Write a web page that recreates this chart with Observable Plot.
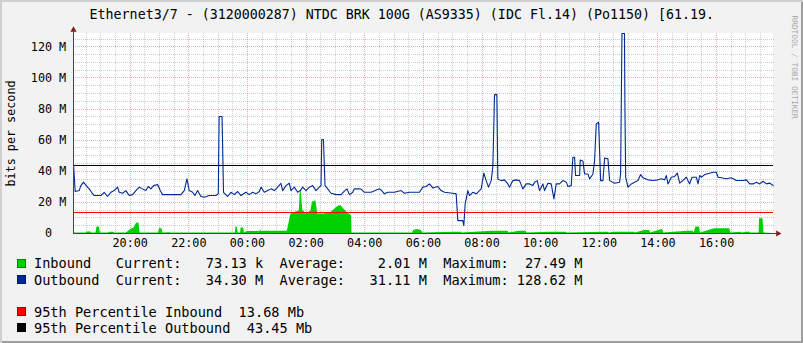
<!DOCTYPE html>
<html><head><meta charset="utf-8">
<script src="https://cdn.jsdelivr.net/npm/d3@7"></script>
<script src="https://cdn.jsdelivr.net/npm/@observablehq/plot@0.6"></script>
<style>
html,body{margin:0;padding:0;background:#fff;}
#chart{position:relative;width:803px;height:343px;background:#F2F2F2;box-shadow:inset 2px 2px 0 #CFCFCF, inset -2px -2px 0 #9E9E9E;overflow:hidden;font-family:"DejaVu Sans Mono",monospace;}
#chart svg{position:absolute;left:0;top:0;}
.row{position:absolute;left:17px;height:16px;line-height:16px;font-size:13.6px;white-space:pre;color:#000;}
.box{position:absolute;left:0;top:3.5px;width:9px;height:9px;box-sizing:border-box;border:1px solid rgba(0,0,0,.35);}
.txt{position:absolute;left:17px;top:0;}
</style></head><body><div id="chart"></div>
<script>
// ---- data (minutes after 18:00 of the first day, values in Mbit/s) ----
const titleText = "Ethernet3/7 - (3120000287) NTDC BRK 100G (AS9335) (IDC Fl.14) (Po1150) [61.19.";
const yLabel = "bits per second";
const watermark = "RRDTOOL / TOBI OETIKER";
const xTickLabels = ["20:00","22:00","00:00","02:00","04:00","06:00","08:00","10:00","12:00","14:00","16:00"];
const yTickValues = [0,20,40,60,80,100,120];
const yTickLabels = ["0\u00a0\u00a0","20 M","40 M","60 M","80 M","100 M","120 M"];

const outMinutes = [4,7.5,15.6,19.1,24.5,27.2,32.7,36.1,40.9,46.4,60,66.8,73.7,80.5,87.3,94.1,97.6,104.4,111.2,118,124.9,131.7,138.5,145.3,152.2,157,162.4,167.9,176.1,181.5,186.3,203.4,223.8,230.7,236.1,240.9,247.7,252.5,258,264.8,271.6,281.9,288.7,295.5,300.3,302,308,311,319.4,326.2,333.1,339.9,346.7,356.9,363.8,370.6,377.4,384.3,387.7,394.5,401.3,408.1,415,421.8,428.6,432,438.9,445.7,449.1,455.9,462.8,468.2,473,479.8,486.6,493.5,500.3,507.1,510.5,512,515.5,518.7,524.2,531,541.2,551.5,558.3,563.8,568.6,575.4,578.8,585.6,592.5,599.3,613,630,633.5,640.3,647.1,660.8,674.4,681.2,691.5,712,718.8,725.6,732.5,739.3,749.5,756.3,763.2,780.2,787.1,790.5,800.7,802.8,805.5,811,814.4,821.2,828,834.9,838.3,843.7,848.5,853.3,858.8,862.2,865.6,870.4,872.4,879.2,886,892.9,896.3,903.1,910,916.8,923.6,930.4,937.3,944.1,947.5,953,957.7,964.6,968,974.8,981.6,987.1,991.9,998.7,1005.5,1012.4,1015.8,1022.6,1026,1029.4,1031.5,1039.7,1041,1046.5,1049.9,1056.7,1060.2,1067,1070.4,1073.8,1078.6,1082.7,1087.5,1090.9,1097.7,1101.1,1111.4,1121.6,1123.6,1126.4,1131.5,1132.5,1134,1138.6,1145.5,1152.3,1159.1,1164.6,1169.4,1179.6,1189.8,1200.1,1206.9,1213.7,1217.2,1220.6,1227.4,1234.2,1239.7,1244.5,1251.3,1258.1,1264.9,1269.7,1278.6,1282,1285.4,1288.8,1295.7,1305.9,1312.7,1319.6,1323,1329.8,1340,1350.3,1360.5,1374.2,1381,1387.8,1394.7,1401.5,1408.3,1415.1,1422,1428.8,1436];
const outValues = [44.8,27.0,27.6,30.8,33.0,31.9,29.8,28.7,26.5,24.4,24.4,26.5,23.8,26.5,27.6,29.8,26.5,25.9,27.6,24.4,25.0,27.6,29.8,28.7,27.6,30.2,28.7,30.8,31.5,27.6,25.0,25.0,25.0,27.6,35.1,27.6,26.5,24.4,27.6,23.8,23.3,24.4,24.4,24.4,25.5,75.2,75.2,26.5,23.8,26.5,25.0,27.0,24.4,26.5,25.0,26.5,25.5,27.0,29.8,26.5,27.6,28.7,27.6,29.8,32.3,27.6,30.8,32.3,27.6,29.8,26.5,27.6,29.8,27.6,29.8,30.8,27.6,29.8,30.8,60.4,60.4,30.8,28.7,25.9,25.0,25.0,27.2,28.7,25.0,26.5,28.7,28.7,28.6,26.5,26.5,28.7,28.0,25.5,26.5,26.5,27.6,25.9,26.5,26.5,29.8,30.2,31.9,29.3,30.2,27.6,26.5,25.9,25.5,8.3,8.3,5.1,19.0,27.6,24.4,26.5,25.5,27.6,28.7,38.8,34.0,29.8,34.0,43.2,89.3,89.3,35.1,34.0,34.5,31.9,29.8,34.0,34.5,34.0,28.7,31.9,31.9,30.8,33.0,34.0,27.6,31.9,27.6,32.3,31.9,22.3,31.9,31.9,34.0,33.0,30.2,30.8,49.0,49.0,37.3,37.3,47.3,46.5,38.3,38.3,35.1,38.3,46.9,70.5,71.5,34.0,34.0,48.6,48.0,34.0,32.3,33.0,38.3,128.6,128.6,79.0,36.2,29.8,31.9,33.0,34.1,37.9,35.8,34.5,34.1,34.5,35.2,34.5,37.3,31.9,36.2,36.7,38.8,32.4,34.1,36.2,31.9,36.2,36.2,31.9,37.3,36.2,37.9,38.8,39.4,39.4,36.2,35.8,35.2,35.8,34.1,34.1,34.5,31.9,31.9,33.0,31.9,33.6,31.9,32.4,30.9];

const inMinutes = [4,30,33,39,41,50,52,57,59,75,80,85,88,112,115,121,128,133,138,140,178,180,185,187,200,205,335,336.5,339,341,346,347,352,354,360,385,387,389,395,440,442,449,456,466,468,470,473,480,490,493,500,504,517,531,538,545,551,558,568,573,574,698,700,708,716,719,787,797,799,862,893,895,917,930,932,978,1012,1014,1091,1098,1100,1111,1152,1154,1173,1183,1185,1207,1210,1212,1261,1272,1274,1278,1285,1287,1316,1347,1349,1370,1372,1387,1389,1407,1408,1415,1417,1436];
const inValues = [0.3,0.3,0.9,0.9,0.3,0.3,4.1,4.1,0.3,0.3,0.8,0.8,0.3,0.3,0.9,2.5,3.5,6.6,6.8,0.3,0.3,3.0,3.0,0.3,0.5,0.3,0.3,4.1,4.1,0.3,0.3,3.5,3.5,0.3,1.3,1.3,2.3,1.3,1.5,1.5,1.9,12.6,13.5,14.5,26,27.5,15,12.6,14.5,20.1,21,12.6,12.6,13.5,15.5,17.4,18,15.5,12.6,11.6,0.3,0.3,1.9,2.6,1.9,0.3,0.8,0.8,0.3,1.5,1.5,0.3,1.5,1.5,0.3,0.8,0.8,0.3,0.8,0.8,0.3,0.8,0.8,0.3,1.9,1.9,0.3,2.4,2.4,0.3,1.5,1.5,0.3,4.1,4.1,0.3,3.0,3.0,0.3,0.8,0.3,1.0,0.3,0.3,9.5,9.5,0.3,0.07];

const pctInbound = 13.68;
const pctOutbound = 43.45;

const legendNames = ["Inbound","Outbound"];
const legendColors = ["#00CF00","#002A97"];
const legendCurrent = ["73.13 k","34.30 M"];
const legendAverage = ["2.01 M","31.11 M"];
const legendMaximum = ["27.49 M","128.62 M"];
const pctLabels = ["95th Percentile Inbound  13.68 Mb","95th Percentile Outbound  43.45 Mb"];
const pctColors = ["#FF0000","#000000"];

// ---- build ----
const X0 = 4, X1 = 1436.5, YMAX = 128.6;
const toMin = s => { const [h,m] = s.split(":").map(Number); return ((h - 18 + 24) % 24) * 60 + m; };
const xTicks = xTickLabels.map(toMin);
const xLab = new Map(xTicks.map((t,i) => [t, xTickLabels[i]]));
const yLab = new Map(yTickValues.map((v,i) => [v, yTickLabels[i]]));
const outData = outMinutes.map((t,i) => ({t, v: outValues[i]}));
const inData = inMinutes.map((t,i) => ({t, v: inValues[i]}));
const minorX = d3.range(30, 1436, 30).filter(d => d % 120 !== 0);
const majorX = xTicks;
const minorY = d3.range(5, 128, 5).filter(d => d % 20 !== 0);
const majorY = yTickValues.filter(d => d > 0);
const crisp = {shapeRendering: "crispEdges"};

const chart = Plot.plot({
  width: 803, height: 250,
  marginLeft: 73, marginRight: 30, marginTop: 33, marginBottom: 17,
  style: {background: "transparent", fontFamily: '"DejaVu Sans Mono", monospace', fontSize: "11.75px", color: "#000", overflow: "visible"},
  x: {domain: [X0, X1], ticks: xTicks, tickFormat: d => xLab.get(d), tickSize: 0, tickPadding: 5, label: null},
  y: {domain: [0, YMAX], ticks: yTickValues, tickFormat: d => yLab.get(d), tickSize: 0, tickPadding: 7.3, label: null},
  marks: [
    Plot.rect([0], {x1: X0, x2: X1, y1: 0, y2: YMAX, fill: "white"}),
    Plot.ruleX(minorX, {y1: -0.5, y2: YMAX + 0.8, stroke: "#8F8F8F", strokeOpacity: 0.45, strokeDasharray: "1,1", ...crisp}),
    Plot.ruleY(minorY, {x1: X0, x2: X1 + 5, stroke: "#8F8F8F", strokeOpacity: 0.45, strokeDasharray: "1,1", ...crisp}),
    Plot.ruleX(majorX, {y1: -0.5, y2: YMAX + 0.8, stroke: "#DE4F4F", strokeOpacity: 0.45, strokeDasharray: "1,1", ...crisp}),
    Plot.ruleY(majorY, {x1: X0, x2: X1 + 5, stroke: "#DE4F4F", strokeOpacity: 0.45, strokeDasharray: "1,1", ...crisp}),
    Plot.areaY(inData, {x: "t", y: "v", fill: "#00CF00", curve: "linear"}),
    Plot.lineY(outData, {x: "t", y: "v", stroke: "#002A97", strokeWidth: 1.1, curve: "linear"}),
    Plot.ruleY([pctInbound], {x1: X0, x2: X1, stroke: "#FF0000", strokeWidth: 1, ...crisp}),
    Plot.ruleY([pctOutbound], {x1: X0, x2: X1, stroke: "#000000", strokeWidth: 1, ...crisp}),
    Plot.ruleX([X0], {y1: 0, y2: 131.5, stroke: "#444", ...crisp}),
    Plot.ruleY([0], {x1: X0, x2: 1449, stroke: "#444", ...crisp}),
    Plot.dot([{x: X0, y: 130.9}], {x: "x", y: "y", symbol: "triangle", r: 2.3, fill: "#801F1F", stroke: "none"}),
    Plot.dot([{x: 1445.6, y: 0}], {x: "x", y: "y", symbol: "triangle", r: 2.3, rotate: 90, fill: "#801F1F", stroke: "none"}),
    Plot.text([titleText], {frameAnchor: "top", dx: -21.7, dy: -18.3, fontSize: 13.3, fill: "#000", textAnchor: "middle", lineAnchor: "middle"}),
    Plot.text([yLabel], {frameAnchor: "left", dx: -62, rotate: -90, textAnchor: "middle", lineAnchor: "middle", fill: "#000"}),
    Plot.text([watermark], {frameAnchor: "top-right", dx: 21, dy: -18, rotate: 90, textAnchor: "start", lineAnchor: "middle", fontSize: 7.8, fill: "#A8A8A8"})
  ]
});
const root = document.getElementById("chart");
root.appendChild(chart);

function addRow(top, color, text) {
  const r = document.createElement("div");
  r.className = "row"; r.style.top = top + "px";
  const b = document.createElement("span"); b.className = "box"; b.style.background = color;
  const t = document.createElement("span"); t.className = "txt"; t.textContent = text;
  r.appendChild(b); r.appendChild(t); root.appendChild(r);
}
legendNames.forEach((n, i) => {
  const s = n.padEnd(10) + "Current:" + legendCurrent[i].padStart(10) + "  Average:" + legendAverage[i].padStart(10) + "  Maximum:" + legendMaximum[i].padStart(9);
  addRow(255.3 + i * 16.4, legendColors[i], s);
});
pctLabels.forEach((s, i) => addRow(303.5 + i * 16, pctColors[i], s));
</script></body></html>
